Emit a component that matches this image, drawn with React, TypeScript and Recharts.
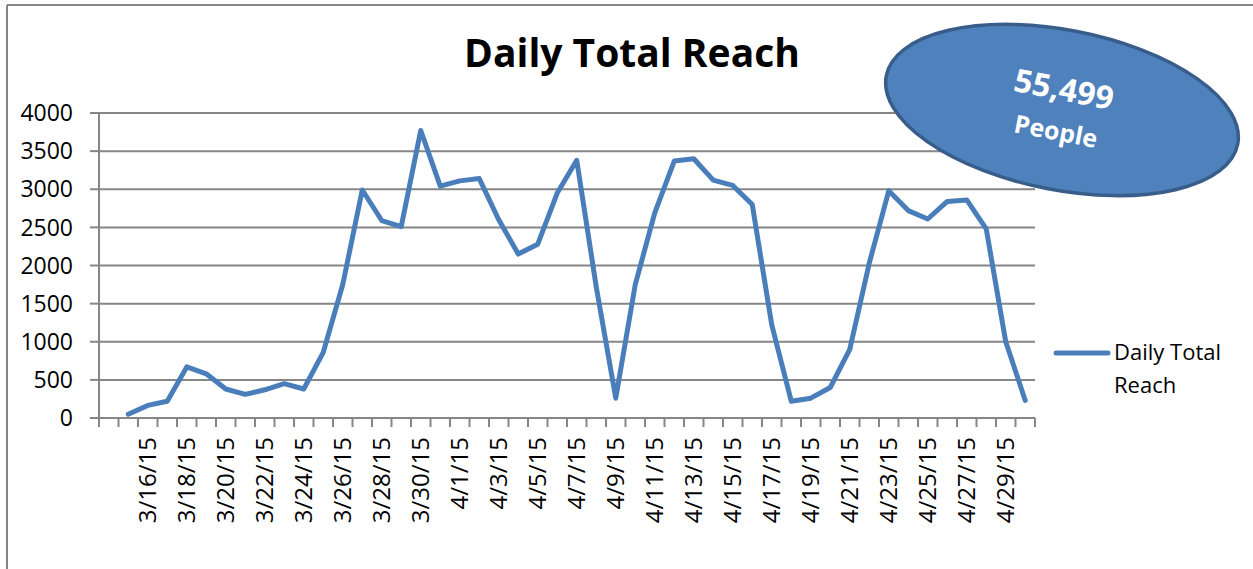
import React from 'react';
import { LineChart, Line, XAxis, YAxis, CartesianGrid, Legend } from 'recharts';

const dates = [
  '3/15/15', '3/16/15', '3/17/15', '3/18/15', '3/19/15', '3/20/15', '3/21/15', '3/22/15',
  '3/23/15', '3/24/15', '3/25/15', '3/26/15', '3/27/15', '3/28/15', '3/29/15', '3/30/15',
  '3/31/15', '4/1/15', '4/2/15', '4/3/15', '4/4/15', '4/5/15', '4/6/15', '4/7/15',
  '4/8/15', '4/9/15', '4/10/15', '4/11/15', '4/12/15', '4/13/15', '4/14/15', '4/15/15',
  '4/16/15', '4/17/15', '4/18/15', '4/19/15', '4/20/15', '4/21/15', '4/22/15', '4/23/15',
  '4/24/15', '4/25/15', '4/26/15', '4/27/15', '4/28/15', '4/29/15', '4/30/15',
];

const reach = [
  50, 165, 220, 670, 580, 380, 310, 370,
  450, 380, 860, 1750, 2990, 2590, 2510, 3770,
  3040, 3110, 3140, 2600, 2150, 2280, 2950, 3380,
  1720, 260, 1750, 2690, 3370, 3400, 3120, 3050,
  2800, 1220, 220, 260, 400, 900, 2030, 2980,
  2720, 2610, 2840, 2860, 2480, 1000, 230,
];

const yTicks = [0, 500, 1000, 1500, 2000, 2500, 3000, 3500, 4000];
const title = 'Daily Total Reach';
const totalPeople = '55,499';

// first category on the axis is blank, dates start in the second slot
const slotCount = dates.length + 1;
const data = dates.map((d, i) => ({ x: i + 1.5, date: d, reach: reach[i] }));
const boundaryTicks = Array.from({ length: slotCount + 1 }, (_, i) => i);
const labelTicks = data.filter((_, i) => i % 2 === 1).map((r) => r.x);

const FONT = '"Open Sans", sans-serif';
const GRID = '#868686';
const BLUE = '#4A7EBB';

const DateTick = (props: any) => {
  const { x, y, payload } = props;
  const row = data.find((r) => r.x === payload.value);
  return (
    <g transform={`translate(${x},${y + 18})`}>
      <text transform="rotate(-90)" textAnchor="end" dy="0.35em" fontFamily={FONT} fontSize={24} fill="#000">
        {row ? row.date : ''}
      </text>
    </g>
  );
};

const LegendBox = () => (
  <div style={{ display: 'flex', alignItems: 'flex-start', fontFamily: FONT, fontSize: 22, color: '#000' }}>
    <svg width={62} height={33}>
      <line x1={4} y1={18} x2={56} y2={18} stroke={BLUE} strokeWidth={5} strokeLinecap="round" />
    </svg>
    <div style={{ lineHeight: '33px' }}>
      Daily Total
      <br />
      Reach
    </div>
  </div>
);

export default function App() {
  return (
    <div style={{ position: 'absolute', left: 0, top: 0, width: 1253, height: 569, background: '#fff' }}>
      <LineChart width={1253} height={569} data={data} margin={{ top: 113, right: 218, bottom: 0, left: 0 }}>
        <CartesianGrid vertical={false} stroke={GRID} strokeWidth={2} />
        <YAxis
          domain={[0, 4000]}
          ticks={yTicks}
          width={99}
          interval={0}
          tickSize={9}
          tickMargin={17}
          axisLine={{ stroke: GRID, strokeWidth: 2 }}
          tickLine={{ stroke: GRID, strokeWidth: 2 }}
          tick={{ fontFamily: FONT, fontSize: 23, fill: '#000' }}
        />
        <XAxis
          xAxisId="cat"
          type="number"
          dataKey="x"
          domain={[0, slotCount]}
          ticks={boundaryTicks}
          interval={0}
          height={1}
          tickSize={9}
          tickFormatter={() => ''}
          axisLine={{ stroke: GRID, strokeWidth: 2 }}
          tickLine={{ stroke: GRID, strokeWidth: 2 }}
        />
        <XAxis
          xAxisId="lbl"
          type="number"
          dataKey="x"
          domain={[0, slotCount]}
          ticks={labelTicks}
          interval={0}
          height={150}
          tickSize={0}
          tickMargin={0}
          axisLine={false}
          tickLine={false}
          tick={<DateTick />}
        />
        <Legend
          layout="vertical"
          align="center"
          verticalAlign="middle"
          content={<LegendBox />}
          wrapperStyle={{ left: 1052, top: 335, width: 200 }}
        />
        <Line
          xAxisId="cat"
          type="linear"
          dataKey="reach"
          name="Daily Total Reach"
          stroke={BLUE}
          strokeWidth={5}
          strokeLinejoin="round"
          strokeLinecap="round"
          dot={false}
          isAnimationActive={false}
        />
      </LineChart>
      <svg width={1253} height={569} style={{ position: 'absolute', left: 0, top: 0, pointerEvents: 'none' }}>
        <line x1={7} y1={5} x2={1253} y2={5} stroke={GRID} strokeWidth={2} />
        <line x1={7} y1={5} x2={7} y2={569} stroke={GRID} strokeWidth={2} />
        <text x={632} y={67} textAnchor="middle" fontFamily={FONT} fontWeight={700} fontSize={39} fill="#000">
          {title}
        </text>
        <g transform="translate(1062,110) rotate(11)">
          <ellipse cx={0} cy={0} rx={179} ry={80} fill="#4F81BD" stroke="#385D8A" strokeWidth={3.5} />
          <text x={-2} y={-22} textAnchor="middle" dominantBaseline="central" fontFamily={FONT} fontWeight={700} fontSize={32} fill="#fff">
            {totalPeople}
          </text>
          <text x={-2} y={21} textAnchor="middle" dominantBaseline="central" fontFamily={FONT} fontWeight={700} fontSize={25} fill="#fff">
            People
          </text>
        </g>
      </svg>
    </div>
  );
}
